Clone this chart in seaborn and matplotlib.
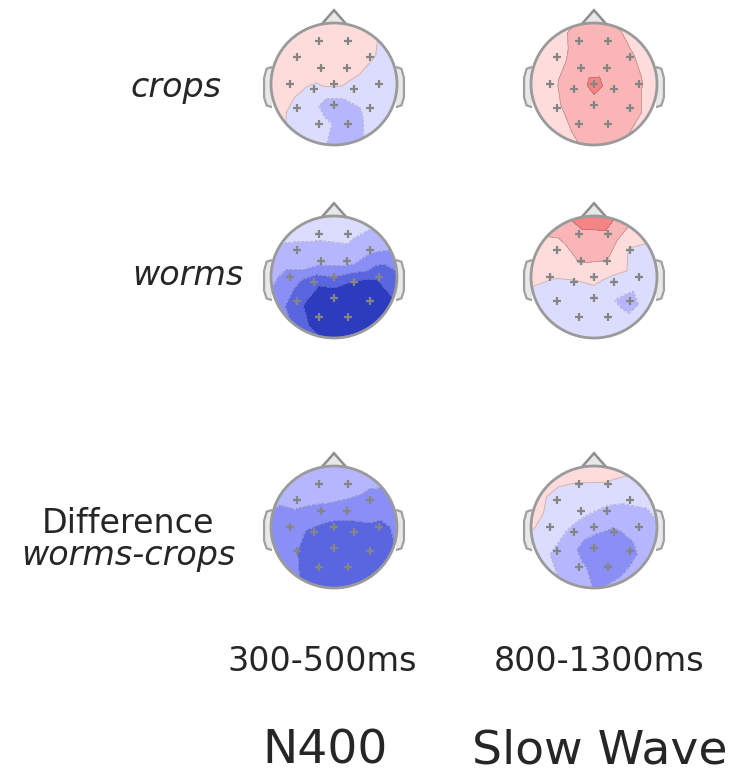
import numpy as np
import pandas as pd
import matplotlib
matplotlib.use("Agg")
import matplotlib.pyplot as plt
import matplotlib.tri as mtri
from matplotlib.colors import ListedColormap, BoundaryNorm
from matplotlib.patches import Circle, Polygon
import seaborn as sns

# ---------------- data ----------------
ELECTRODES = ["Fp1", "Fp2", "F7", "F3", "F4", "F8", "T7", "C3", "Cz", "C4", "T8",
              "P7", "Pz", "P8", "O1", "O2"]
ELEC_X = [-0.24, 0.22, -0.58, -0.21, 0.21, 0.57, -0.70, -0.32, 0.0, 0.32, 0.71,
          -0.58, 0.0, 0.57, -0.24, 0.23]
ELEC_Y = [0.71, 0.71, 0.44, 0.27, 0.27, 0.44, 0.0, -0.08, 0.0, -0.08, 0.0,
          -0.40, -0.34, -0.40, -0.66, -0.66]
RIM_ANGLES = [90, 60, 30, 0, -30, -60, -90, -120, -150, 180, 150, 120]

# electrode values (µV) and values at the scalp rim, per map
n400_crops = [0.5, 0.4, 0.6, 0.5, 0.4, 0.1, 0.4, -0.2, 0.2, -0.3, -0.6,
              -0.3, -1.5, -0.8, -0.7, -1.4]
n400_crops_rim = [0.5, 0.2, -0.3, -0.6, -0.7, -0.9, -1.2, -0.4, 0.3, 0.6, 0.6, 0.5]

slow_crops = [1.3, 1.4, 0.7, 1.5, 1.6, 1.1, 0.8, 1.4, 2.3, 1.6, 1.1,
              0.9, 1.7, 1.4, 1.2, 1.5]
slow_crops_rim = [1.2, 0.8, 0.6, 0.5, 0.6, 0.9, 1.2, 0.7, 0.4, -0.1, 0.4, 0.8]

n400_worms = [-0.8, -0.7, -1.2, -1.6, -1.5, -1.8, -2.3, -3.7, -3.0, -4.1, -3.9,
              -3.7, -4.9, -4.7, -4.8, -4.9]
n400_worms_rim = [-0.4, -0.6, -1.6, -3.2, -4.3, -4.6, -4.4, -3.3, -2.4, -1.7, -1.0, -0.5]

slow_worms = [1.7, 1.8, 0.6, 1.1, 1.0, -0.1, 0.05, -0.1, 0.4, -0.4, -0.6,
              -0.5, -0.6, -1.3, -0.5, -0.6]
slow_worms_rim = [3.2, 1.3, -0.1, -0.4, -0.5, -0.5, -0.5, -0.5, -0.4, 0.2, 0.7, 1.6]

n400_diff = [-1.4, -1.5, -1.8, -2.2, -2.4, -2.3, -2.4, -3.3, -3.4, -3.7, -3.2,
             -3.0, -3.8, -3.6, -3.6, -3.7]
n400_diff_rim = [-1.2, -1.5, -2.2, -2.8, -3.1, -3.4, -3.6, -3.0, -2.5, -2.2, -1.8, -1.3]

slow_diff = [-0.05, -0.1, -0.4, -0.7, -1.2, -0.9, -0.3, -1.3, -1.6, -2.2, -1.4,
             -1.2, -2.7, -2.4, -1.8, -2.6]
slow_diff_rim = [1.3, 0.2, -0.7, -1.0, -1.2, -1.6, -2.0, -1.0, -0.6, 0.2, 0.4, 0.5]

ROW_LABELS = ["crops", "worms", "Difference"]
COL_WINDOWS = ["300-500ms", "800-1300ms"]
COL_TITLES = ["N400", "Slow Wave"]

LEVELS = [-5, -4, -3, -2, -1, 0, 1, 2, 3, 4]
LEVEL_COLORS = ["#2d3cbe", "#5a66e0", "#8a8ff5", "#b6b6ff", "#dcdcff",
                "#ffdcdc", "#fab6b6", "#f58484", "#e65050"]

MAPS = [
    [(n400_crops, n400_crops_rim), (slow_crops, slow_crops_rim)],
    [(n400_worms, n400_worms_rim), (slow_worms, slow_worms_rim)],
    [(n400_diff, n400_diff_rim), (slow_diff, slow_diff_rim)],
]

# ---------------- figure ----------------
sns.set_style("white")
W, H = 739, 775
fig = plt.figure(figsize=(W / 100, H / 100), dpi=100)

cmap = ListedColormap(sns.color_palette(LEVEL_COLORS))
norm = BoundaryNorm(LEVELS, cmap.N)

col_cx = [334, 594]
row_cy = [84, 277, 527]
RX, RY = 63, 61
SPAN = 1.3

rim_x = [1.08 * np.cos(np.deg2rad(a)) for a in RIM_ANGLES]
rim_y = [1.08 * np.sin(np.deg2rad(a)) for a in RIM_ANGLES]
pts_x = np.array(ELEC_X + rim_x)
pts_y = np.array(ELEC_Y + rim_y)
tri = mtri.Triangulation(pts_x, pts_y)

for r, row in enumerate(MAPS):
    for c, (vals, rim_vals) in enumerate(row):
        cx, cy = col_cx[c], row_cy[r]
        ax = fig.add_axes([(cx - SPAN * RX) / W, 1 - (cy + SPAN * RY) / H,
                           2 * SPAN * RX / W, 2 * SPAN * RY / H])
        z = np.array(vals + rim_vals)
        head = Circle((0, 0), 1.0, transform=ax.transData)
        cs = ax.tricontourf(tri, z, levels=LEVELS, cmap=cmap, norm=norm, zorder=1)
        cs.set_clip_path(head)
        cl = ax.tricontour(tri, z, levels=LEVELS, colors="#404040",
                           linewidths=0.6, alpha=0.3, zorder=2)
        cl.set_clip_path(head)
        # nose
        ax.add_patch(Polygon([(-0.2, 0.975), (0, 1.21), (0.2, 0.975)], closed=False,
                             facecolor="#e8e8e8", edgecolor="#8e8e8e", lw=1.8, zorder=0))
        # ears
        for s in (-1, 1):
            ear = [(s * 0.985, 0.28), (s * 1.07, 0.25), (s * 1.11, 0.10),
                   (s * 1.11, -0.22), (s * 1.07, -0.35), (s * 0.985, -0.38)]
            ax.add_patch(Polygon(ear, closed=False, facecolor="#e8e8e8",
                                 edgecolor="#a0a0a0", lw=1.6, zorder=0))
        ax.add_patch(Circle((0, 0), 1.0, facecolor="none", edgecolor="#9a9a9a",
                            lw=2.0, zorder=3))
        df = pd.DataFrame({"x": ELEC_X, "y": ELEC_Y, "name": ELECTRODES})
        sns.scatterplot(data=df, x="x", y="y", marker="+", color="#858585",
                        s=40, linewidth=1.6, ax=ax, legend=False, zorder=4)
        ax.set_xlabel("")
        ax.set_ylabel("")
        ax.set_xlim(-SPAN, SPAN)
        ax.set_ylim(-SPAN, SPAN)
        ax.axis("off")

TXT = "#262626"
def ftext(x, y, s, **kw):
    fig.text(x / W, 1 - y / H, s, color=TXT, **kw)

ftext(176, 97, "crops", fontsize=24, style="italic", ha="center", va="baseline")
ftext(188, 285, "worms", fontsize=24, style="italic", ha="center", va="baseline")
ftext(128, 533, "Difference", fontsize=24, ha="center", va="baseline")
ftext(128, 565, "worms-crops", fontsize=24, style="italic", ha="center", va="baseline")

for cx, s in zip([322, 599], COL_WINDOWS):
    ftext(cx, 671, s, fontsize=24, ha="center", va="baseline")
for cx, s in zip([325, 600], COL_TITLES):
    ftext(cx, 763, s, fontsize=34, ha="center", va="baseline")

fig.savefig("out.png", dpi=100)
